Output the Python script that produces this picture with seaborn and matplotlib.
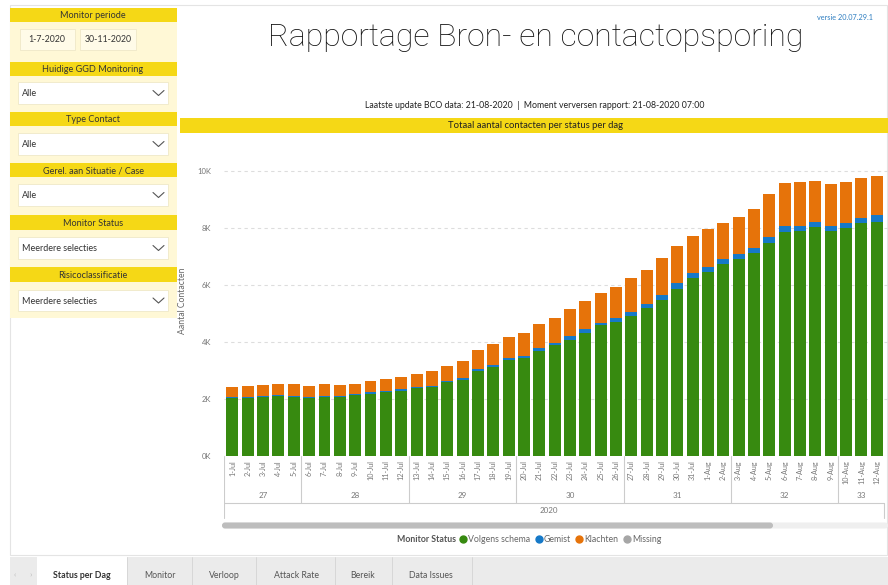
import numpy as np
import pandas as pd
import matplotlib
matplotlib.use("Agg")
import matplotlib.pyplot as plt
import seaborn as sns
from matplotlib.patches import Rectangle, FancyBboxPatch
from matplotlib.lines import Line2D

# data (contacts per day, 1 Jul - 12 Aug 2020)
dates = pd.date_range("2020-07-01", "2020-08-12", freq="D")
day_labels = [f"{d.day}-{d.strftime('%b')}" for d in dates]
week_nums = dates.isocalendar().week.astype(int).tolist()

volgens = [2050, 2050, 2070, 2090, 2070, 2025, 2080, 2070, 2125, 2190, 2250,
           2295, 2385, 2420, 2580, 2680, 2985, 3135, 3365, 3450, 3700, 3895,
           4070, 4300, 4600, 4710, 4920, 5180, 5470, 5870, 6230, 6460, 6740,
           6900, 7110, 7490, 7870, 7900, 8020, 7900, 7990, 8160, 8220]
gemist = [30, 30, 35, 40, 35, 35, 35, 35, 40, 45, 40, 45, 50, 50, 50, 55, 55,
          60, 60, 70, 80, 80, 150, 165, 80, 120, 140, 150, 175, 185, 175, 185,
          165, 185, 200, 210, 200, 185, 175, 185, 175, 200, 235]
klachten = [350, 375, 375, 385, 410, 400, 400, 375, 350, 400, 420, 420, 445,
            500, 525, 595, 665, 725, 735, 785, 840, 875, 925, 970, 1055, 1090,
            1170, 1195, 1285, 1310, 1310, 1310, 1285, 1285, 1355, 1485, 1495,
            1530, 1460, 1450, 1450, 1405, 1370]

df = pd.DataFrame({"dag": day_labels, "week": week_nums, "volgens": volgens,
                   "gemist": gemist, "klachten": klachten})
df["top_gemist"] = df["volgens"] + df["gemist"]
df["top_klachten"] = df["top_gemist"] + df["klachten"]

GREEN = "#378a10"
BLUE = "#1679c8"
ORANGE = "#e6730a"
GREY = "#a6a6a6"
YELLOW = "#f5d816"
PANEL = "#fff8d6"

sns.set_theme(style="white")
plt.rcParams["font.family"] = ["Lato", "DejaVu Sans"]

W, H = 888, 585
fig = plt.figure(figsize=(W / 100, H / 100), dpi=100)

# full-figure overlay in pixel coordinates for the report chrome
ov = fig.add_axes([0, 0, 1, 1], zorder=0)
ov.set_xlim(0, W)
ov.set_ylim(H, 0)
ov.axis("off")


def box(x0, y0, x1, y1, fc, ec="none", lw=0.6):
    ov.add_patch(Rectangle((x0, y0), x1 - x0, y1 - y0, fc=fc, ec=ec, lw=lw))


# page frame + tab bar
box(10, 5, 887, 555, "white", ec="#e4e4e4", lw=0.8)
box(10, 557, 888, 585, "#ebebeb")
box(37, 557, 127, 585, "white")
for x in [127, 192, 256, 335, 392, 472]:
    ov.plot([x, x], [557, 585], color="#d4d4d4", lw=0.6)
ov.text(15, 575, "‹", color="#bbbbbb", fontsize=6, ha="center", va="center")
ov.text(31, 575, "›", color="#bbbbbb", fontsize=6, ha="center", va="center")
tabs = [("Status per Dag", 82), ("Monitor", 160), ("Verloop", 224),
        ("Attack Rate", 296), ("Bereik", 363), ("Data Issues", 431)]
for i, (t, x) in enumerate(tabs):
    ov.text(x, 575, t, fontsize=6.3, ha="center", va="center",
            color="#333333" if i == 0 else "#555555",
            fontweight="bold" if i == 0 else "normal")

# left filter panel
box(10, 8, 177, 318, PANEL)
headers = [("Monitor periode", 8, 22), ("Huidige GGD Monitoring", 62, 76),
           ("Type Contact", 112, 126), ("Gerel. aan Situatie / Case", 163, 177),
           ("Monitor Status", 215, 230), ("Risicoclassificatie", 267, 282)]
for t, y0, y1 in headers:
    box(10, y0, 177, y1, YELLOW)
    ov.text(93, (y0 + y1) / 2 + 0.5, t, fontsize=6.6, ha="center", va="center",
            color="#333333")
box(20, 29, 75, 50, "#fffbe8", ec="#efe8c8")
box(80, 29, 136, 50, "#fffbe8", ec="#efe8c8")
ov.text(47, 40, "1-7-2020", fontsize=6.3, ha="center", va="center", color="#333333")
ov.text(108, 40, "30-11-2020", fontsize=6.3, ha="center", va="center", color="#333333")
dropdowns = [("Alle", 82, 104), ("Alle", 133, 155), ("Alle", 184, 206),
             ("Meerdere selecties", 237, 259), ("Meerdere selecties", 290, 311)]
for t, y0, y1 in dropdowns:
    box(18, y0, 168, y1, "white", ec="#efe8c8")
    yc = (y0 + y1) / 2
    ov.text(22, yc + 0.5, t, fontsize=6.5, ha="left", va="center", color="#333333")
    ov.plot([153, 158.5, 164], [yc - 2.5, yc + 2.5, yc - 2.5], color="#555555", lw=0.8)

# titles
ov.text(536, 38, "Rapportage Bron- en contactopsporing", fontsize=23,
        family=["Roboto", "DejaVu Sans"], fontweight="light", ha="center",
        va="center", color="#111111")
ov.text(817, 18, "versie 20.07.29.1", fontsize=5.3, ha="left", va="center",
        color="#2f7fc1")
ov.text(535, 106, "Laatste update BCO data: 21-08-2020  |  Moment verversen rapport: 21-08-2020 07:00",
        fontsize=6.3, ha="center", va="center", color="#222222")
box(180, 118, 888, 133, YELLOW)
ov.text(535, 126, "Totaal aantal contacten per status per dag", fontsize=6.8,
        ha="center", va="center", color="#222222")

# scrollbar
ov.add_patch(FancyBboxPatch((222, 522.5), 666, 6, boxstyle="round,pad=0,rounding_size=3",
                            fc="#efefef", ec="none"))
ov.add_patch(FancyBboxPatch((222, 522.5), 551, 6, boxstyle="round,pad=0,rounding_size=3",
                            fc="#bdbdbd", ec="none"))

# legend
ov.text(397, 540, "Monitor Status", fontsize=6.3, ha="left", va="center",
        color="#555555", fontweight="bold")
handles = [Line2D([], [], marker="o", ls="none", ms=5, color=c)
           for c in [GREEN, BLUE, ORANGE, GREY]]
ov.legend(handles, ["Volgens schema", "Gemist", "Klachten", "Missing"],
          loc="center left", bbox_to_anchor=(459, 540), bbox_transform=ov.transData,
          ncol=4, frameon=False, fontsize=6.3, handlelength=0.9,
          handletextpad=0.15, columnspacing=0.5, labelcolor="#666666",
          borderpad=0, borderaxespad=0)

# main bar chart (stacked: draw cumulative tops, largest first)
left, right, top, bottom = 224, 888, 151, 456
ax = fig.add_axes([left / W, 1 - bottom / H, (right - left) / W, (bottom - top) / H],
                  zorder=1)
ax.set_facecolor("none")
for col, c in [("top_klachten", ORANGE), ("top_gemist", BLUE), ("volgens", GREEN)]:
    sns.barplot(data=df, x="dag", y=col, color=c, saturation=1, width=0.78,
                errorbar=None, linewidth=0, ax=ax)
xlim = (-0.55, 42.73)
ax.set_xlim(*xlim)
ax.set_ylim(0, 10700)
ax.set_yticks(range(0, 10001, 2000))
ax.set_yticklabels([f"{v // 1000}K" for v in range(0, 10001, 2000)])
ax.yaxis.grid(True, color="#dddddd", lw=0.8, ls=(0, (3, 3)))
ax.set_axisbelow(True)
for s in ax.spines.values():
    s.set_visible(False)
ax.tick_params(axis="y", length=0, pad=9, labelsize=5.5, labelcolor="#777777")
ax.tick_params(axis="x", length=0, pad=3, labelsize=5.2, labelcolor="#777777",
               rotation=90)
ax.set_xlabel("")
ax.set_ylabel("Aantal Contacten", fontsize=6.2, color="#666666")
ax.yaxis.set_label_coords((187 - left) / (right - left), 0.51)

# hierarchy rows under the day labels (week, year)
ax2 = fig.add_axes([left / W, 1 - 530 / H, (right - left) / W, (530 - bottom) / H],
                   zorder=1)
ax2.set_facecolor("none")
ax2.set_xlim(*xlim)
ax2.set_ylim(74, 0)
ax2.axis("off")
line_kw = dict(color="#cccccc", lw=0.8)
x_end = 42.47
ax2.plot([xlim[0] + 0.03, xlim[0] + 0.03], [0, 62], **line_kw)
ax2.plot([xlim[0], x_end], [47, 47], **line_kw)
ax2.plot([x_end, x_end], [47, 62], **line_kw)
pos = np.arange(len(df))
for wk, grp in df.groupby("week"):
    idx = pos[df["week"] == wk]
    if idx[0] > 0:
        ax2.plot([idx[0] - 0.5, idx[0] - 0.5], [0, 47], **line_kw)
    ax2.text(idx.mean(), 40, str(wk), fontsize=5.8, ha="center", va="center",
             color="#777777")
ax2.text(20.6, 54.5, "2020", fontsize=5.8, ha="center", va="center", color="#777777")

fig.savefig("out.png", dpi=100)
